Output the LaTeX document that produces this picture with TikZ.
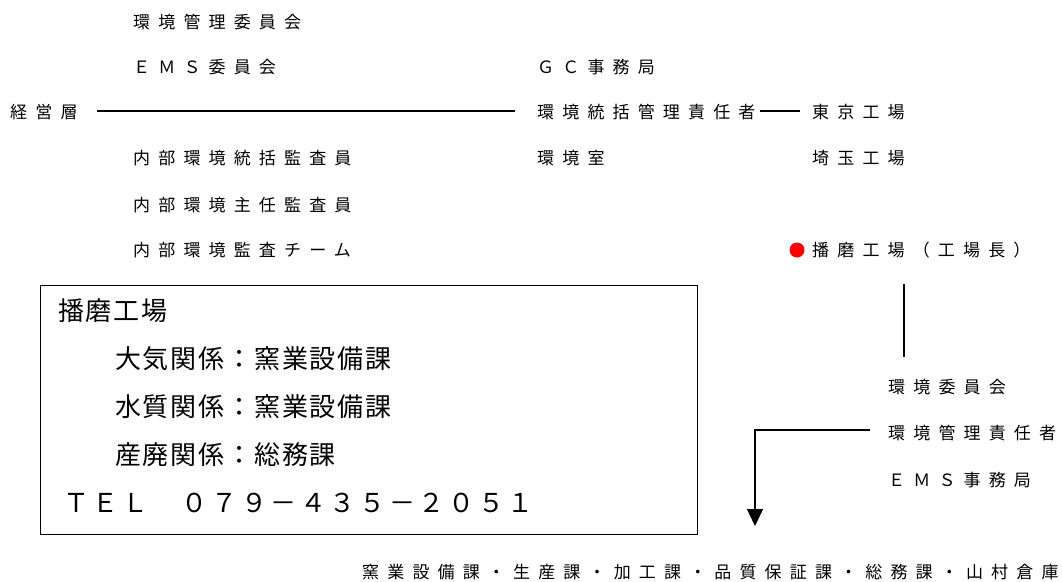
\documentclass[tikz,border=0pt]{standalone}
\usepackage{fontspec}
\usetikzlibrary{arrows.meta}
\newfontfamily\jps[LetterSpace=48]{Noto Sans CJK JP}
\newfontfamily\jpb[LetterSpace=7]{Noto Sans CJK JP}
\newfontfamily\jpt[LetterSpace=14]{Noto Sans CJK JP}
\tikzset{
  lbl/.style={anchor=west,inner sep=0pt,font=\jps\fontsize{17}{17}\selectfont},
  blbl/.style={anchor=west,inner sep=0pt,font=\jpb\fontsize{26}{26}\selectfont},
  tlbl/.style={anchor=west,inner sep=0pt,font=\jpt\fontsize{26}{26}\selectfont},
  conn/.style={line width=1.4pt},
}
\begin{document}
\begin{tikzpicture}[x=1pt,y=-1pt]
\useasboundingbox (0,0) rectangle (1062,581);
\node[lbl] (kk) at (133,22) {環境管理委員会};
\node[lbl] (ems) at (133,67) {ＥＭＳ委員会};
\node[lbl] (keiei) at (10,112) {経営層};
\node[lbl] (gc) at (537,67) {ＧＣ事務局};
\node[lbl] (tokatsu) at (537,112) {環境統括管理責任者};
\node[lbl] (tokyo) at (812,112) {東京工場};
\node[lbl] (naibu1) at (133,158) {内部環境統括監査員};
\node[lbl] (shitsu) at (537,158) {環境室};
\node[lbl] (saitama) at (812,158) {埼玉工場};
\node[lbl] (naibu2) at (133,205) {内部環境主任監査員};
\node[lbl] (naibu3) at (133,250) {内部環境監査チーム};
\fill[red] (797,250) circle (7.5);
\node[lbl] (harima) at (812,250) {播磨工場（工場長）};
\node[lbl] (iinkai) at (888,387) {環境委員会};
\node[lbl] (sekinin) at (888,433) {環境管理責任者};
\node[lbl] (jimu) at (888,480) {ＥＭＳ事務局};
\node[lbl] (bottom) at (362,572) {窯業設備課・生産課・加工課・品質保証課・総務課・山村倉庫};
\node[draw,line width=1.2pt,minimum width=657pt,minimum height=249pt,anchor=north west,inner sep=0pt] (box) at (40,285) {};
\node[blbl] (b1) at (58,311) {播磨工場};
\node[blbl] (b2) at (115,359) {大気関係：窯業設備課};
\node[blbl] (b3) at (115,407) {水質関係：窯業設備課};
\node[blbl] (b4) at (115,455) {産廃関係：総務課};
\node[tlbl] (b5) at (63,503) {ＴＥＬ　０７９－４３５－２０５１};
\coordinate (l1a) at (97,111);
\coordinate (l1b) at (515,111);
\draw[conn] (l1a) -- (l1b);
\coordinate (l2a) at (760,111);
\coordinate (l2b) at (800,111);
\draw[conn] (l2a) -- (l2b);
\coordinate (va) at (904,284);
\coordinate (vb) at (904,357);
\draw[conn] (va) -- (vb);
\coordinate (ha) at (870,430);
\coordinate (hb) at (755,430);
\coordinate (tip) at (755,526);
\draw[conn,-{Triangle[width=16pt,length=17pt]}] (ha) -- (hb) -- (tip);
\end{tikzpicture}
\end{document}
